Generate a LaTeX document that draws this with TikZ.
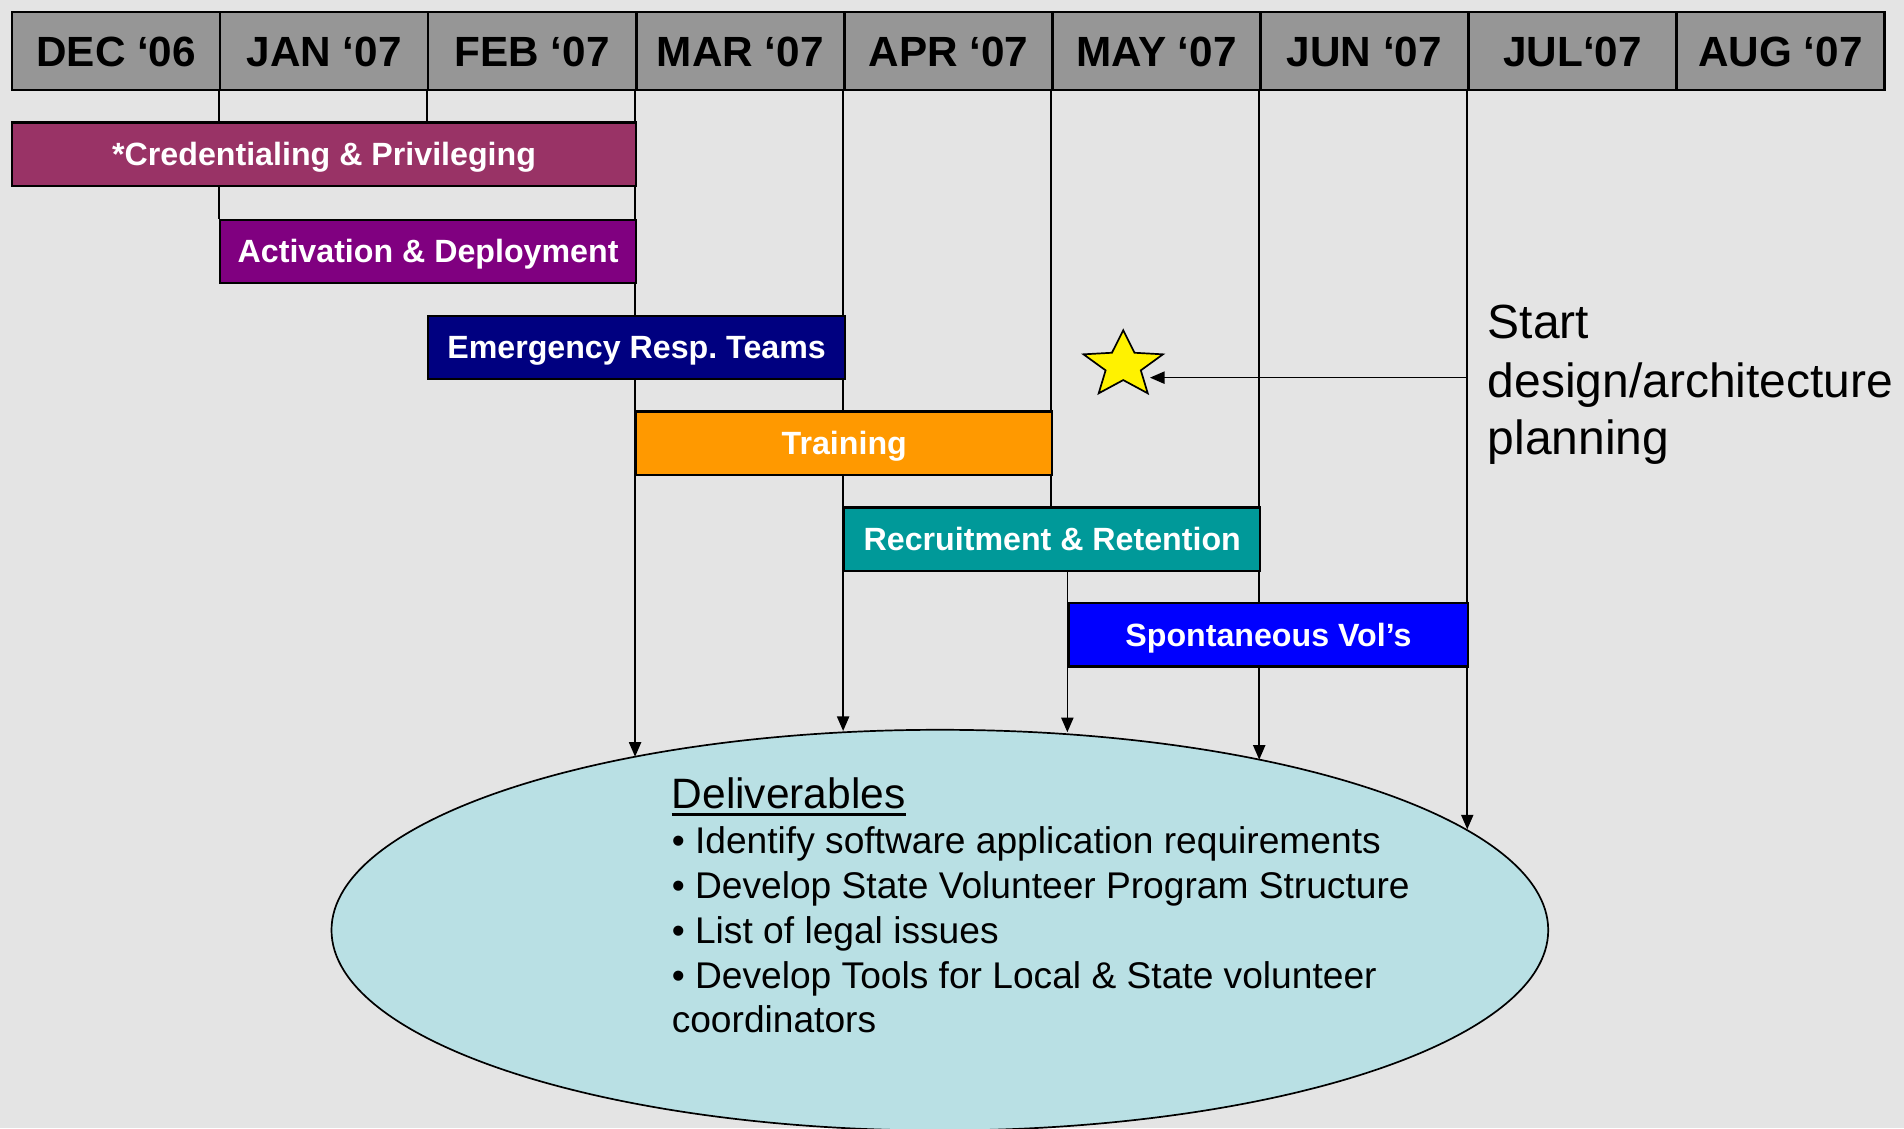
\documentclass[tikz,border=0pt]{standalone}
\usepackage{fontspec}
\setmainfont{Liberation Sans}
\usetikzlibrary{arrows.meta,shapes.geometric}
\definecolor{bgc}{HTML}{E4E4E4}
\definecolor{hdr}{HTML}{969696}
\definecolor{cA}{HTML}{993366}
\definecolor{cB}{HTML}{800080}
\definecolor{cC}{HTML}{000080}
\definecolor{cD}{HTML}{FF9900}
\definecolor{cE}{HTML}{009999}
\definecolor{cF}{HTML}{0000FF}
\definecolor{ellc}{HTML}{B9E0E4}
\frenchspacing
\begin{document}
\begin{tikzpicture}[x=1pt,y=-1pt,
  month/.style={draw=black, line width=2pt, fill=hdr, minimum width=171.33pt, minimum height=64pt,
    inner sep=0pt, font=\fontsize{34.8}{40}\selectfont\bfseries, text height=24.8pt, text depth=0pt, anchor=north west},
  bar/.style={draw=black, line width=1.8pt, minimum height=52pt, inner sep=0pt, text=white,
    font=\fontsize{26.5}{30}\selectfont\bfseries, text height=19pt, text depth=0pt, anchor=north west},
  conn/.style={line width=1.4pt},
  arr/.style={conn, -{Triangle[length=12pt,width=10pt]}},
  deliv/.style={anchor=base west, inner sep=0pt, font=\fontsize{30.6}{37}\selectfont},
  note/.style={anchor=base west, inner sep=0pt, font=\fontsize{39.5}{48}\selectfont},
]
\fill[bgc] (0,0) rectangle (1568,929);
\useasboundingbox (0,0) rectangle (1568,929);

% ellipse end points of the arrows
\coordinate (e1) at (523,623.2);
\coordinate (e2) at (694.33,602);
\coordinate (e3) at (879,603);
\coordinate (e4) at (1037,625.6);
\coordinate (e5) at (1208.33,683);
\coordinate (sa) at (1208.33,311);
\coordinate (startip) at (947,311);

% header
\node[month] (h1) at (9,9) {DEC ‘06};
\node[month] (h2) at (180.33,9) {JAN ‘07};
\node[month] (h3) at (351.67,9) {FEB ‘07};
\node[month] (h4) at (523,9) {MAR ‘07};
\node[month] (h5) at (694.33,9) {APR ‘07};
\node[month] (h6) at (865.67,9) {MAY ‘07};
\node[month] (h7) at (1037,9) {JUN ‘07};
\node[month] (h8) at (1208.33,9) {JUL‘07};
\node[month] (h9) at (1379.67,9) {AUG ‘07};

% bar corners
\path (9,100) coordinate (p1) (180.33,180) coordinate (p2) (351.67,259) coordinate (p3)
      (523,338) coordinate (p4) (694.33,417) coordinate (p5) (879,496) coordinate (p6);

% connectors
\draw[conn] (h2.south west) -- (h2.south west |- p2);
\draw[conn] (h3.south west) -- (h3.south west |- p1);
\draw[arr] (h4.south west) -- (e1);
\draw[arr] (h5.south west) -- (e2);
\draw[conn] (h6.south west) -- (h6.south west |- p5);
\draw[arr] (p6 |- 0,469) -- (e3);
\draw[arr] (h7.south west) -- (e4);
\draw[arr] (h8.south west) -- (e5);
\draw[arr] (sa) -- (startip);

% bars
\node[bar, fill=cA, minimum width=514pt] (b1) at (p1) {*Credentialing \& Privileging};
\node[bar, fill=cB, minimum width=342.67pt] (b2) at (p2) {Activation \& Deployment};
\node[bar, fill=cC, minimum width=343.33pt] (b3) at (p3) {Emergency Resp. Teams};
\node[bar, fill=cD, minimum width=342.67pt] (b4) at (p4) {Training};
\node[bar, fill=cE, minimum width=342.67pt] (b5) at (p5) {Recruitment \& Retention};
\node[bar, fill=cF, minimum width=329.33pt] (b6) at (p6) {Spontaneous Vol’s};

% star
\draw[fill=yellow, line width=1.4pt, line join=miter]
  (925,272) -- (934.3,290.5) -- (957.7,291.8) -- (939.5,305) -- (945.2,323.9) -- (925,313)
  -- (904.8,323.9) -- (910.5,305) -- (892.3,291.8) -- (915.7,290.5) -- cycle;

% deliverables ellipse
\node[ellipse, draw=black, line width=1.4pt, fill=ellc, minimum width=1002pt, minimum height=330pt, inner sep=0pt] (ell) at (774,766) {};
\node[deliv, font=\fontsize{35}{40}\selectfont] (d0) at (553,666) {Deliverables};
\draw[line width=2.6pt] ([yshift=-5pt]d0.base west) -- ([yshift=-5pt]d0.base east);
\node[deliv] (d1) at (553,703) {• Identify software application requirements};
\node[deliv] (d2) at (553,740) {• Develop State Volunteer Program Structure};
\node[deliv] (d3) at (553,777) {• List of legal issues};
\node[deliv] (d4) at (553,814) {• Develop Tools for Local \& State volunteer};
\node[deliv] (d5) at (553,850) {coordinators};

% note
\node[note] (n1) at (1225,279) {Start};
\node[note] (n2) at (1225,327) {design/architecture};
\node[note] (n3) at (1225,374) {planning};
\end{tikzpicture}
\end{document}
